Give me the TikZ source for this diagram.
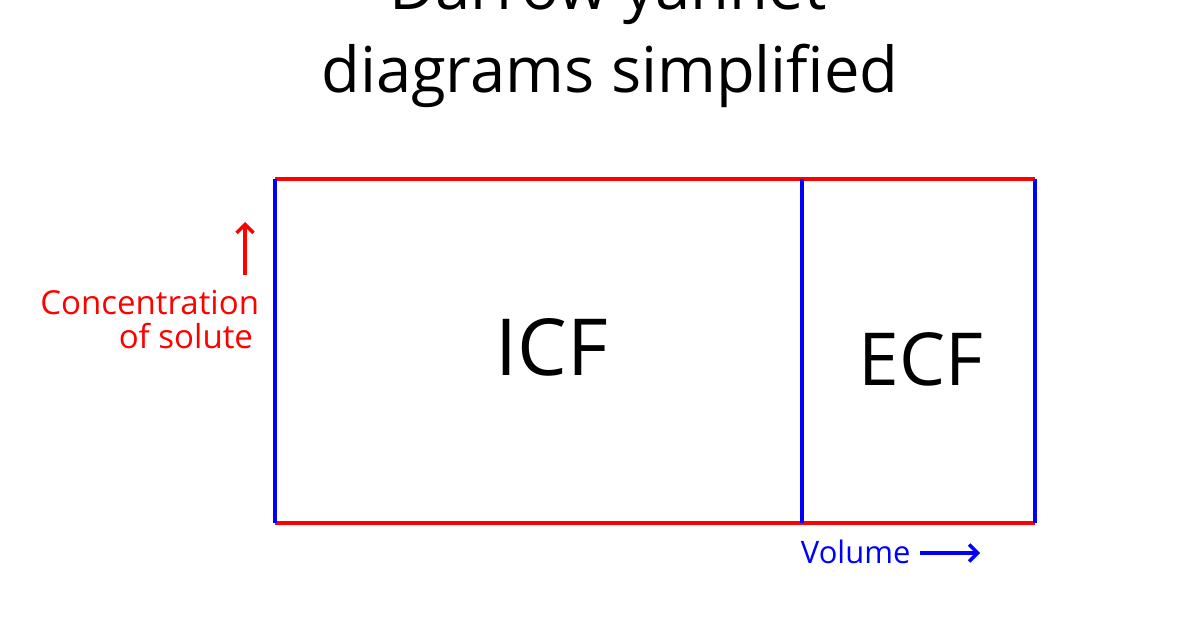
\documentclass[tikz,border=0pt]{standalone}
\usepackage{fontspec}
\setmainfont{Open Sans}
\usetikzlibrary{arrows.meta}

\begin{document}
\begin{tikzpicture}
\useasboundingbox (0,0) rectangle (30,15.75);
%%%%%TITLE%%%%%%%%%
\node[anchor=base, font=\fontsize{45}{50}\selectfont] (title1) at (15.2,15.5) {Darrow yannet};
\node[anchor=base, font=\fontsize{45}{50}\selectfont] (title2) at (15.25,13.425) {diagrams simplified};

%%%%%DRAW BOXES%%%%%%%%%
\draw[red, line width=2.5pt] (6.875,11.275) -- (25.875,11.275);
\draw[red, line width=2.5pt] (6.875,2.675) -- (25.875,2.675);
\draw[blue, line width=2.5pt] (6.875,2.675) -- (6.875,11.275);
\draw[blue, line width=2.5pt] (20.05,2.675) -- (20.05,11.275);
\draw[blue, line width=2.5pt] (25.875,2.675) -- (25.875,11.275);
\node[anchor=base, font=\fontsize{56}{60}\selectfont] (icf) at (13.8,6.375) {ICF};
\node[anchor=base, font=\fontsize{52}{56}\selectfont] (ecf) at (23.02,6.125) {ECF};

%%%%%DRAW AXES%%%%%%%
\node[anchor=base east, red, font=\fontsize{23.5}{27}\selectfont] (conc) at (6.6,7.9) {Concentration};
\node[anchor=base east, red, font=\fontsize{23.5}{27}\selectfont] (solute) at (6.45,7.05) {of solute};
\coordinate (up1) at (6.125,8.875);
\coordinate (up2) at (6.125,10.2);
\draw[red, line width=2.5pt, -{Straight Barb[length=6pt,width=12pt]}] (up1) -- (up2);

\node[anchor=base west, blue, font=\fontsize{22}{26}\selectfont] (vol) at (19.9,1.675) {Volume};
\coordinate (right1) at (23.0,1.925);
\coordinate (right2) at (24.5,1.925);
\draw[blue, line width=2.5pt, -{Straight Barb[length=6pt,width=12pt]}] (right1) -- (right2);

\end{tikzpicture}
\end{document}
